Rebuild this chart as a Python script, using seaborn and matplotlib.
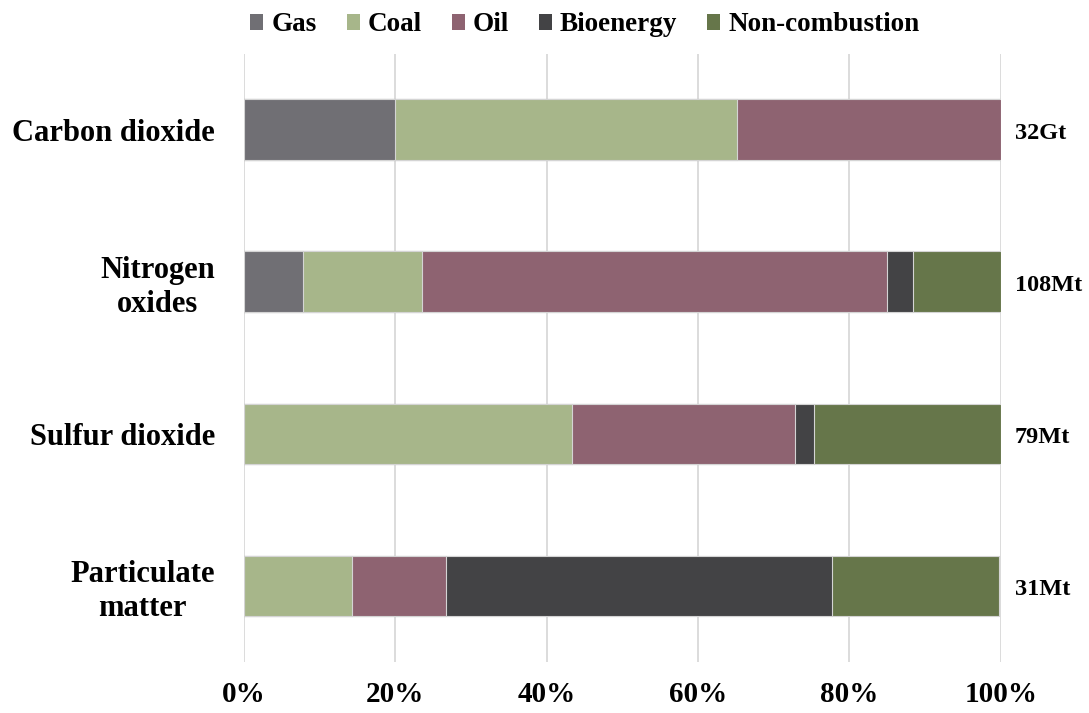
import matplotlib
matplotlib.use("Agg")
import matplotlib.pyplot as plt
import pandas as pd
import seaborn as sns
from matplotlib.patches import Patch

# Share of each source in global emissions of each pollutant (%)
pollutants = ["Carbon dioxide", "Nitrogen\noxides", "Sulfur dioxide", "Particulate\nmatter"]
sources = ["Gas", "Coal", "Oil", "Bioenergy", "Non-combustion"]
gas = [20.0, 7.8, 0.0, 0.0]
coal = [45.1, 15.7, 43.4, 14.3]
oil = [34.9, 61.5, 29.4, 12.4]
bioenergy = [0.0, 3.4, 2.5, 51.0]
non_combustion = [0.0, 11.6, 24.7, 22.0]
totals = ["32Gt", "108Mt", "79Mt", "31Mt"]
x_ticks = [0, 20, 40, 60, 80, 100]
x_tick_labels = ["0%", "20%", "40%", "60%", "80%", "100%"]

colors = ["#706f74", "#a7b68a", "#8e6371", "#434345", "#66764a"]

sns.set_theme(style="white")
plt.rcParams["font.family"] = ["Liberation Serif", "DejaVu Serif"]
plt.rcParams["font.weight"] = "bold"
plt.rcParams["text.color"] = "black"
plt.rcParams["xtick.color"] = "black"
plt.rcParams["ytick.color"] = "black"

shares = pd.DataFrame(
    {"Gas": gas, "Coal": coal, "Oil": oil,
     "Bioenergy": bioenergy, "Non-combustion": non_combustion},
    index=pollutants,
)
cumulative = shares.cumsum(axis=1)

fig = plt.figure(figsize=(10.89, 7.13), dpi=100)
ax = fig.add_axes([0.224, 0.0715, 0.695, 0.853])

# Stack the segments by drawing cumulative bars from the outermost inward
for src, col in reversed(list(zip(sources, colors))):
    sns.barplot(
        x=cumulative[src].values, y=pollutants, orient="h",
        color=col, saturation=1, width=0.4,
        edgecolor="#d4d4d4", linewidth=0.8, ax=ax,
    )

ax.set_xlim(0, 100)
ax.set_ylim(3.5, -0.5)
ax.set_xlabel("")
ax.set_ylabel("")
ax.set_xticks(x_ticks)
ax.set_xticklabels(x_tick_labels, fontsize=21, fontweight="bold", color="black")
ax.xaxis.grid(True, color="#d9d9d9", linewidth=1.3)
ax.yaxis.grid(False)
ax.set_axisbelow(True)
for s in ax.spines.values():
    s.set_visible(False)
ax.tick_params(axis="both", length=0)
ax.tick_params(axis="x", pad=14)
ax.tick_params(axis="y", pad=21)
for lbl in ax.get_yticklabels():
    lbl.set_fontsize(22)
    lbl.set_fontweight("bold")
    lbl.set_color("black")
    lbl.set_ha("right")
    lbl.set_multialignment("center")

# Total emissions next to each bar
for i, t in enumerate(totals):
    ax.annotate(t, xy=(100, i), xytext=(10, -2.5), textcoords="offset points",
                ha="left", va="center", fontsize=17.5, fontweight="bold",
                color="black")

handles = [Patch(facecolor=c, edgecolor="none") for c in colors]
fig.legend(handles, sources, loc="center", bbox_to_anchor=(0.537, 0.965),
           ncol=5, frameon=False, prop={"size": 19.5, "weight": "bold"},
           handlelength=0.48, handleheight=0.5, handletextpad=0.3,
           columnspacing=1.1, borderaxespad=0)

fig.savefig("out.png", dpi=100)
